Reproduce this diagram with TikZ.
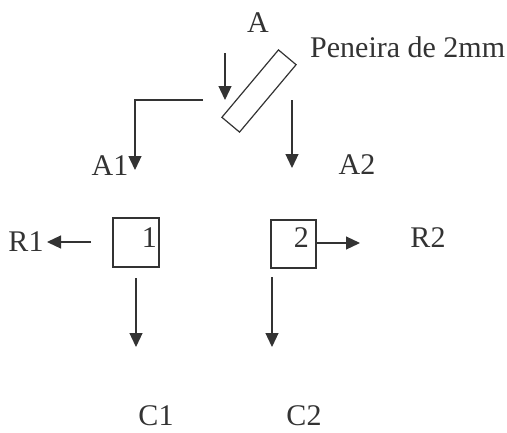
\documentclass[tikz,border=0pt]{standalone}
\usepackage{fontspec}
\setmainfont{Liberation Serif}
\usetikzlibrary{arrows.meta}
\begin{document}
\begin{tikzpicture}[x=1pt,y=-1pt,
  lbl/.style={inner sep=0pt,font=\fontsize{30}{36}\selectfont,text=black!80},
  flow/.style={line width=1.2pt,draw=black!80,-{Triangle[length=14pt,width=13pt]}},
  boxnode/.style={draw=black!80,line width=1.2pt,minimum width=46pt,minimum height=49pt,inner sep=0pt}]
\useasboundingbox (0,0) rectangle (507,432);
% labels
\node[lbl] (A) at (258,23) {A};
\node[lbl,anchor=west] (pen) at (310,47) {Peneira de 2mm};
\node[lbl] (A1) at (110,166) {A1};
\node[lbl] (A2) at (357,165) {A2};
\node[lbl] (R1) at (26,242) {R1};
\node[lbl] (R2) at (428,238) {R2};
\node[lbl] (C1) at (156,416) {C1};
\node[lbl] (C2) at (304,416) {C2};
% sieve
\node[draw=black!80,line width=1.2pt,minimum width=88pt,minimum height=23pt,inner sep=0pt,rotate=50] (sieve) at (259,91) {};
% boxes
\node[boxnode] (b1) at (136,242.5) {};
\node[lbl,anchor=east] (n1) at (157,238) {1};
\node[boxnode,minimum width=45pt,minimum height=48pt] (b2) at (293.5,244) {};
\node[lbl,anchor=east] (n2) at (309,238) {2};
% connector coordinates
\coordinate (inS) at (225,53);
\coordinate (inE) at (225,100);
\coordinate (lS) at (203,100);
\coordinate (lE) at (135,170);
\coordinate (rS) at (292,100);
\coordinate (rE) at (292,168);
\coordinate (r1S) at (91,242);
\coordinate (r1E) at (47,242);
\coordinate (r2E) at (360,243);
\coordinate (c1S) at (136,278);
\coordinate (c1E) at (136,347);
\coordinate (c2S) at (272,277);
\coordinate (c2E) at (272,347);
% connectors
\draw[flow] (inS) -- (inE);
\draw[flow] (lS) -| (lE);
\draw[flow] (rS) -- (rE);
\draw[flow] (r1S) -- (r1E);
\draw[flow] (b2.east |- r2E) -- (r2E);
\draw[flow] (c1S) -- (c1E);
\draw[flow] (c2S) -- (c2E);
\end{tikzpicture}
\end{document}
